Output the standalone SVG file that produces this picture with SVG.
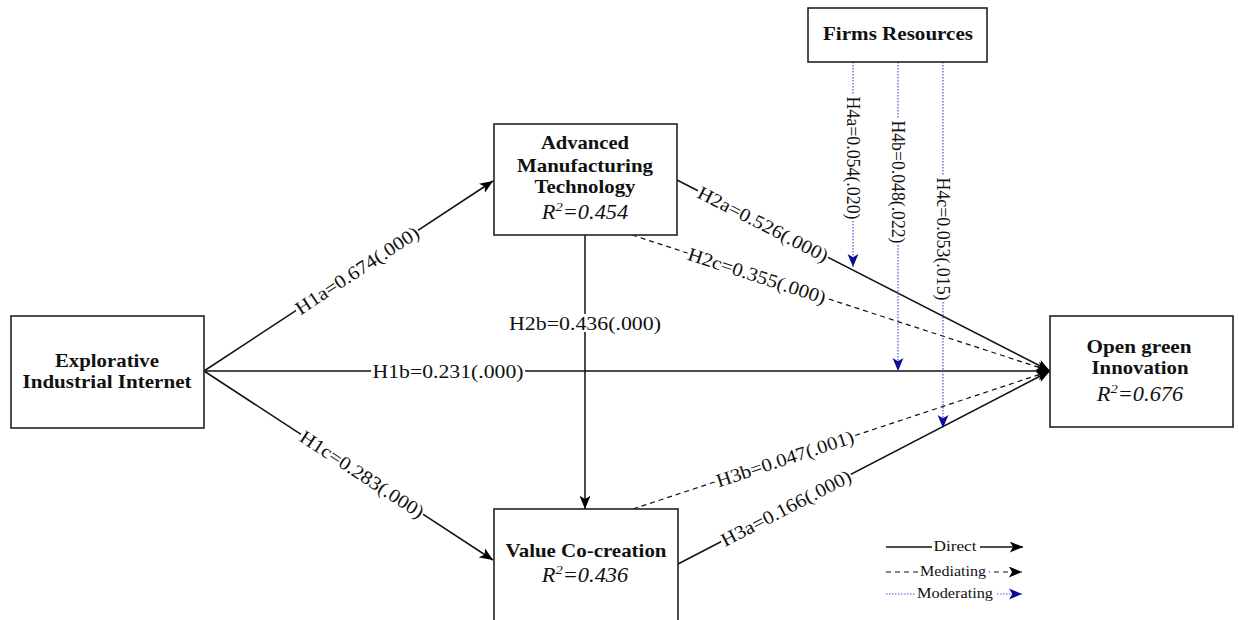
<svg xmlns="http://www.w3.org/2000/svg" width="1239" height="620" viewBox="0 0 1239 620">
<style>
.box{fill:#fff;stroke:#222;stroke-width:1.6}
.bt{font-family:"Liberation Serif","Times New Roman",serif;font-weight:bold;font-size:19px;fill:#111;text-anchor:middle}
.r2{font-family:"Liberation Serif","Times New Roman",serif;font-style:italic;font-size:20px;fill:#111;text-anchor:middle}
.lb{font-family:"Liberation Serif","Times New Roman",serif;font-size:19px;fill:#111;text-anchor:middle}
.lg{font-family:"Liberation Serif","Times New Roman",serif;font-size:15px;fill:#111;text-anchor:middle}
.bg{fill:#fff}
.d{stroke:#111;stroke-width:1.5;fill:none}
.m{stroke:#111;stroke-width:1.2;fill:none;stroke-dasharray:5 4}
.mo{stroke:#4a55d0;stroke-width:1.2;fill:none;stroke-dasharray:1.5 1.5}
</style>
<defs>
<marker id="ab" viewBox="0 0 12 10" refX="12" refY="5" markerWidth="14" markerHeight="11" markerUnits="userSpaceOnUse" orient="auto"><path d="M0,0 L12,5 L0,10 L3,5 Z" fill="#000"/></marker>
<marker id="abb" viewBox="0 0 12 10" refX="12" refY="5" markerWidth="13" markerHeight="12" markerUnits="userSpaceOnUse" orient="auto"><path d="M0,0 L12,5 L0,10 L3,5 Z" fill="#0a0a96"/></marker>
</defs>

<g id="connectors">
<line class="d" x1="204" y1="371" x2="493" y2="181" marker-end="url(#ab)"/>
<line class="d" x1="204" y1="371" x2="1050" y2="371" marker-end="url(#ab)"/>
<line class="d" x1="204" y1="371" x2="493" y2="560" marker-end="url(#ab)"/>
<line class="d" x1="585" y1="235" x2="585" y2="509" marker-end="url(#ab)"/>
<line class="d" x1="677" y1="180" x2="1050" y2="371" marker-end="url(#ab)"/>
<line class="m" x1="632" y1="235" x2="1050" y2="371" marker-end="url(#ab)"/>
<line class="d" x1="678" y1="564" x2="1050" y2="371" marker-end="url(#ab)"/>
<line class="m" x1="633" y1="509" x2="1050" y2="371" marker-end="url(#ab)"/>
<line class="mo" x1="853" y1="62" x2="853" y2="267" marker-end="url(#abb)"/>
<line class="mo" x1="898" y1="62" x2="898" y2="371" marker-end="url(#abb)"/>
<line class="mo" x1="943" y1="62" x2="943" y2="428" marker-end="url(#abb)"/>

<g transform="translate(357,270.4) rotate(-33.32)"><rect class="bg" x="-73" y="-9" width="146" height="18"/><text class="lb" x="0" y="6.5" textLength="144" lengthAdjust="spacingAndGlyphs">H1a=0.674(.000)</text></g>
<g transform="translate(448,371)"><rect class="bg" x="-77" y="-9" width="154" height="18"/><text class="lb" x="0" y="6.5" textLength="151" lengthAdjust="spacingAndGlyphs">H1b=0.231(.000)</text></g>
<g transform="translate(362,474.3) rotate(33.18)"><rect class="bg" x="-73" y="-9" width="146" height="18"/><text class="lb" x="0" y="6.5" textLength="144" lengthAdjust="spacingAndGlyphs">H1c=0.283(.000)</text></g>
<g transform="translate(585,323)"><rect class="bg" x="-77" y="-9" width="154" height="18"/><text class="lb" x="0" y="6.5" textLength="152" lengthAdjust="spacingAndGlyphs">H2b=0.436(.000)</text></g>
<g transform="translate(763,224) rotate(27.11)"><rect class="bg" x="-73" y="-9" width="146" height="18"/><text class="lb" x="0" y="6.5" textLength="144" lengthAdjust="spacingAndGlyphs">H2a=0.526(.000)</text></g>
<g transform="translate(757,275.7) rotate(18.02)"><rect class="bg" x="-73" y="-9" width="146" height="18"/><text class="lb" x="0" y="6.5" textLength="144" lengthAdjust="spacingAndGlyphs">H2c=0.355(.000)</text></g>
<g transform="translate(786,508) rotate(-27.42)"><rect class="bg" x="-73" y="-9" width="146" height="18"/><text class="lb" x="0" y="6.5" textLength="144" lengthAdjust="spacingAndGlyphs">H3a=0.166(.000)</text></g>
<g transform="translate(785,458.7) rotate(-18.31)"><rect class="bg" x="-73" y="-9" width="146" height="18"/><text class="lb" x="0" y="6.5" textLength="144" lengthAdjust="spacingAndGlyphs">H3b=0.047(.001)</text></g>
<g transform="translate(853,158) rotate(90)"><rect class="bg" x="-63" y="-9" width="126" height="18"/><text class="lb" x="0" y="6.5" textLength="123" lengthAdjust="spacingAndGlyphs">H4a=0.054(.020)</text></g>
<g transform="translate(898,182) rotate(90)"><rect class="bg" x="-63" y="-9" width="126" height="18"/><text class="lb" x="0" y="6.5" textLength="123" lengthAdjust="spacingAndGlyphs">H4b=0.048(.022)</text></g>
<g transform="translate(943,239) rotate(90)"><rect class="bg" x="-63" y="-9" width="126" height="18"/><text class="lb" x="0" y="6.5" textLength="123" lengthAdjust="spacingAndGlyphs">H4c=0.053(.015)</text></g>
</g>

<g id="node-eii">
<rect class="box" x="11" y="316" width="193" height="112"/>
<text class="bt" x="107" y="367" textLength="104" lengthAdjust="spacingAndGlyphs">Explorative</text>
<text class="bt" x="107" y="388" textLength="169" lengthAdjust="spacingAndGlyphs">Industrial Internet</text>
</g>

<g id="node-amt">
<rect class="box" x="494" y="124" width="183" height="111"/>
<text class="bt" x="585" y="149" textLength="88" lengthAdjust="spacingAndGlyphs">Advanced</text>
<text class="bt" x="585" y="172" textLength="136" lengthAdjust="spacingAndGlyphs">Manufacturing</text>
<text class="bt" x="585" y="193" textLength="101" lengthAdjust="spacingAndGlyphs">Technology</text>
<text class="r2" transform="translate(585,219) scale(1.12,1)">R<tspan dy="-8" font-size="13">2</tspan><tspan dy="8">=0.454</tspan></text>
</g>

<g id="node-vcc">
<rect class="box" x="494" y="509" width="184" height="125"/>
<text class="bt" x="586" y="557" textLength="161" lengthAdjust="spacingAndGlyphs">Value Co-creation</text>
<text class="r2" transform="translate(585,582) scale(1.12,1)">R<tspan dy="-8" font-size="13">2</tspan><tspan dy="8">=0.436</tspan></text>
</g>

<g id="node-ogi">
<rect class="box" x="1050" y="316" width="183" height="111"/>
<text class="bt" x="1139" y="353" textLength="105" lengthAdjust="spacingAndGlyphs">Open green</text>
<text class="bt" x="1140" y="374" textLength="97" lengthAdjust="spacingAndGlyphs">Innovation</text>
<text class="r2" transform="translate(1140,401) scale(1.12,1)">R<tspan dy="-8" font-size="13">2</tspan><tspan dy="8">=0.676</tspan></text>
</g>

<g id="node-fr">
<rect class="box" x="808" y="8" width="179" height="54"/>
<text class="bt" x="898" y="40" textLength="150" lengthAdjust="spacingAndGlyphs">Firms Resources</text>
</g>

<g id="legend">
<line class="d" x1="886" y1="547" x2="1023" y2="547" marker-end="url(#ab)"/>
<rect class="bg" x="932" y="539" width="48" height="16"/>
<text class="lg" x="955" y="551" textLength="43" lengthAdjust="spacingAndGlyphs">Direct</text>
<line class="m" x1="886" y1="572" x2="1022" y2="572" marker-end="url(#ab)"/>
<rect class="bg" x="918" y="564" width="71" height="16"/>
<text class="lg" x="953" y="576" textLength="66" lengthAdjust="spacingAndGlyphs">Mediating</text>
<line class="mo" x1="886" y1="594" x2="1022" y2="594" marker-end="url(#abb)"/>
<rect class="bg" x="915" y="586" width="81" height="16"/>
<text class="lg" x="955" y="598" textLength="76" lengthAdjust="spacingAndGlyphs">Moderating</text>
</g>
</svg>
